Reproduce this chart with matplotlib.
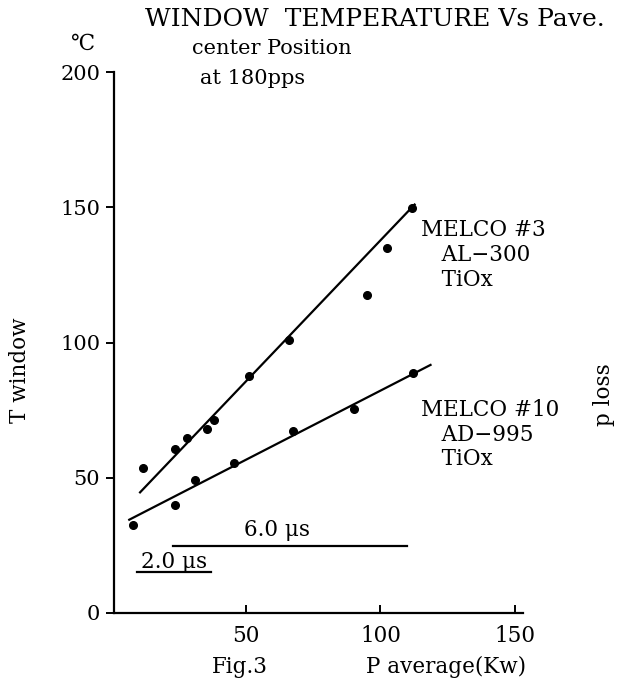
import numpy as np
import matplotlib
matplotlib.use("Agg")
import matplotlib.pyplot as plt

plt.rcParams['font.family'] = ['DejaVu Serif']

# MELCO #3 (AL-300, TiOx)
p3 = [11.9, 23.5, 28.0, 35.4, 38.0, 51.0, 66.0, 95.0, 102.6, 111.6]
t3 = [53.5, 60.5, 64.6, 67.9, 71.2, 87.8, 101.0, 117.7, 135.0, 149.8]
trend3_x = [10.4, 113.0]
trend3_y = [44.3, 151.3]

# MELCO #10 (AD-995, TiOx)
p10 = [8.2, 23.5, 31.0, 45.5, 67.5, 90.3, 112.0]
t10 = [32.5, 39.9, 49.0, 55.4, 67.2, 75.6, 88.6]
trend10_x = [6.3, 119.0]
trend10_y = [34.3, 91.9]

# pulse width marker bars
pulse_labels = ["6.0 \u03bcs", "2.0 \u03bcs"]
pulse_x = [[23.0, 110.0], [9.7, 37.0]]
pulse_y = [24.7, 15.3]

xticks = [50, 100, 150]
yticks = [0, 50, 100, 150, 200]

fig = plt.figure(figsize=(6.17, 6.87), dpi=100)
ax = fig.add_axes([114 / 617, 1 - 613 / 687, (523 - 114) / 617, (613 - 72) / 687])
ax.set_xlim(1, 153)
ax.set_ylim(0, 200)

fs = 15.5
for px, ty, tx, tyl in [(p3, t3, trend3_x, trend3_y), (p10, t10, trend10_x, trend10_y)]:
    ax.plot(tx, tyl, color='black', lw=1.6, solid_capstyle='butt')
    ax.plot(px, ty, 'o', color='black', ms=5.5)

for xr, yv in zip(pulse_x, pulse_y):
    ax.plot(xr, [yv, yv], color='black', lw=1.6)
pw = dict(fontsize=fs, ha='center', va='baseline')
ax.text(61.5, 28.5, pulse_labels[0], **pw)
ax.text(23.5, 16.8, pulse_labels[1], **pw)

for s in ['top', 'right']:
    ax.spines[s].set_visible(False)
for s in ['left', 'bottom']:
    ax.spines[s].set_linewidth(1.6)

ax.set_xticks(xticks)
ax.set_yticks(yticks)
ax.tick_params(axis='x', direction='in', length=6, width=1.4, pad=9, labelsize=fs)
ax.tick_params(axis='y', direction='out', length=6, width=1.4, pad=4, labelsize=15)

# curve labels
lab = dict(fontsize=fs, va='top', ha='left', linespacing=1.15, clip_on=False)
ax.text(115, 145.5, "MELCO #3\n   AL\u2212300\n   TiOx", **lab)
ax.text(115, 79, "MELCO #10\n   AD\u2212995\n   TiOx", **lab)

# titles and axis captions in figure pixel coordinates
def ftext(x, y, s, size=fs, **kw):
    fig.text(x / 617, 1 - y / 687, s, fontsize=size, **kw)

ftext(145, 20, "WINDOW  TEMPERATURE Vs Pave.", size=18, ha='left', va='center')
ftext(192, 49, "center Position", size=15, ha='left', va='center')
ftext(200, 79, "at 180pps", size=15, ha='left', va='center')
ftext(83, 44, "\u2103", ha='center', va='center')
ftext(20, 370, "T window", ha='center', va='center', rotation=90)
ftext(604, 395, "p loss", ha='center', va='center', rotation=90)
ftext(240, 667, "Fig.3", ha='center', va='center')
ftext(446, 667, "P average(Kw)", ha='center', va='center')

fig.savefig("out.png", dpi=100)
